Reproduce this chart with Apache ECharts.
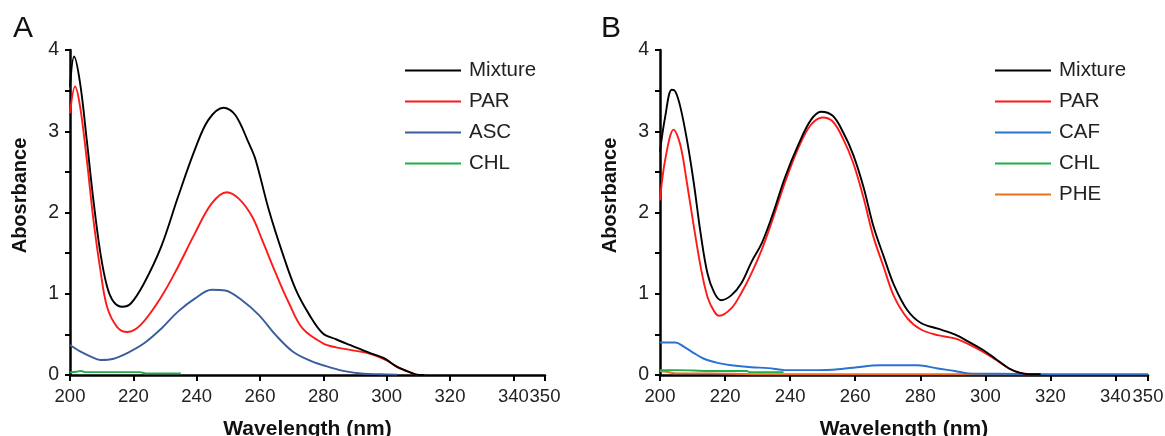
<!DOCTYPE html>
<html>
<head>
<meta charset="utf-8">
<script src="https://cdn.jsdelivr.net/npm/echarts@6/dist/echarts.min.js"></script>
<style>
html,body{margin:0;padding:0;background:#fff;}
#c{width:1165px;height:436px;}
</style>
</head>
<body>
<div id="c"></div>
<script>
// ---- Panel A data ----
const aMixWl  = [200,201.3,203.2,205.3,207.4,209.6,211.7,213.8,216.5,219.2,223.4,228.8,234.1,239.4,243.7,248.5,252.2,256.5,258.6,262.8,267.1,271.3,275.6,279.9,284,288.4,294.8,299,303.3,307.6,310.2,312];
const aMixAbs = [3.55,3.92,3.59,2.89,2.15,1.50,1.09,0.90,0.84,0.88,1.13,1.58,2.19,2.77,3.14,3.29,3.20,2.85,2.65,2.03,1.50,1.05,0.74,0.51,0.44,0.37,0.27,0.21,0.10,0.03,0.0,0.0];
const aParWl  = [200,201.6,203.2,205.3,207.4,209.6,211.7,214.9,218.1,222.4,228.8,234.1,239.4,244.7,249.5,253.3,257.5,260.7,265,269.2,273.5,279.9,284,288.4,294.8,300,303.3,307.6,310.2,312];
const aParAbs = [3.22,3.55,3.30,2.65,1.91,1.29,0.84,0.59,0.53,0.62,0.96,1.33,1.74,2.11,2.25,2.17,1.95,1.66,1.25,0.88,0.57,0.39,0.34,0.31,0.26,0.18,0.10,0.03,0.0,0.0];
const aAscWl  = [200,203.2,206.4,209.6,213.8,218.1,223.4,228.8,234.1,239.4,244.7,249,254.3,259.6,265,270.3,275.6,279.9,286.3,292.7,298,303.3];
const aAscAbs = [0.37,0.29,0.23,0.185,0.20,0.27,0.39,0.57,0.78,0.94,1.05,1.04,0.92,0.74,0.49,0.29,0.18,0.12,0.05,0.015,0.01,0.005];
const aChlWl  = [200,202,203.5,205,210,222,224,235];
const aChlAbs = [0.03,0.04,0.05,0.035,0.035,0.035,0.02,0.02];

// ---- Panel B data ----
const bMixWl  = [200,201.6,203.6,204.7,206.25,208.3,210.4,212.5,214.6,216.7,218.75,221.9,225,228.1,231.25,234.4,238.5,242.7,246.4,249.5,253.1,256.25,259.4,262.5,265.6,268.75,271.9,276,280.2,285.4,290.6,294.8,300,303.1,307.3,310.4,313.5,317];
const bMixAbs = [2.75,3.18,3.51,3.49,3.30,2.89,2.36,1.74,1.25,1.01,0.92,0.98,1.13,1.39,1.62,1.95,2.44,2.85,3.14,3.24,3.19,2.99,2.71,2.32,1.83,1.46,1.11,0.80,0.64,0.57,0.50,0.41,0.29,0.20,0.08,0.03,0.01,0.01];
const bParWl  = [200,201.6,204.2,206.25,208.3,210.4,212.5,214.6,216.7,218.2,221.9,225,228.1,231.25,234.4,238.5,242.7,246.4,250,253.1,256.25,259.4,262.5,265.6,268.75,271.9,276,280.2,285.4,290.6,294.8,300,303.1,307.3,310.4,313.5];
const bParAbs = [2.15,2.65,3.02,2.83,2.36,1.83,1.33,0.96,0.78,0.73,0.82,1.01,1.25,1.54,1.89,2.38,2.81,3.08,3.17,3.12,2.91,2.61,2.19,1.70,1.33,0.97,0.70,0.56,0.49,0.45,0.38,0.27,0.19,0.08,0.03,0.01];
const bCafWl  = [200,204.7,207.3,210.4,213.5,217.7,221.9,228.1,233.3,238.5,249,253.1,259.4,267.7,279.2,285.4,290.6,294.8,303.1,320,350];
const bCafAbs = [0.40,0.40,0.35,0.27,0.20,0.15,0.12,0.095,0.085,0.06,0.06,0.065,0.09,0.12,0.12,0.08,0.05,0.02,0.015,0.01,0.01];
const bChlWl  = [200,206,215,226.6,227.5,238];
const bChlAbs = [0.06,0.06,0.05,0.05,0.035,0.035];
const bPheWl  = [200,202,205,215,230,317];
const bPheAbs = [0.05,0.04,0.02,0.02,0.01,0.01];

// ---- axis ticks ----
const xMin = 200, xMax = 350, xStep = 20;
const yMin = 0, yMax = 4, yStep = 0.5;

const zip = (w, a) => w.map((v, i) => [v, a[i]]);

const colBlack = '#000000', colRed = '#ff1a1a', colBlueA = '#3a5e9c', colBlueB = '#2a72d0', colGreen = '#1fae4a', colOrange = '#ee6e1c';
const font = 'Liberation Sans, Arial, sans-serif';

function xAxisCfg(idx) {
  return {
    type: 'value', gridIndex: idx, min: xMin, max: xMax, interval: xStep,
    name: 'Wavelength (nm)', nameLocation: 'middle', nameGap: 44,
    nameTextStyle: { fontFamily: font, fontSize: 21, fontWeight: 'bold', color: '#111' },
    axisLine: { show: true, onZero: false, lineStyle: { color: '#000', width: 2.5 } },
    axisTick: { show: true, inside: false, length: 6, lineStyle: { color: '#000', width: 2 } },
    axisLabel: { fontFamily: font, fontSize: 18.5, color: '#222', margin: 12, showMaxLabel: true, showMinLabel: true, hideOverlap: false },
    splitLine: { show: false }
  };
}
function yAxisCfg(idx) {
  return {
    type: 'value', gridIndex: idx, min: yMin, max: yMax, interval: yStep,
    name: 'Abosrbance', nameLocation: 'middle', nameGap: 40, nameRotate: 90,
    nameTextStyle: { fontFamily: font, fontSize: 20, fontWeight: 'bold', color: '#111', padding: [0, 0, 0, 34] },
    axisLine: { show: true, lineStyle: { color: '#000', width: 2.5 } },
    axisTick: { show: true, inside: false, length: 5, lineStyle: { color: '#000', width: 2 } },
    axisLabel: { fontFamily: font, fontSize: 19.5, color: '#222', margin: 11,
      formatter: v => (Math.abs(v - Math.round(v)) < 1e-9 ? String(Math.round(v)) : '') },
    splitLine: { show: false }
  };
}
function line(name, wl, ab, color, x, y, z) {
  return {
    type: 'line', name, data: zip(wl, ab), xAxisIndex: x, yAxisIndex: y,
    showSymbol: false, smooth: 0.35, z: z || 2,
    lineStyle: { color, width: 1.9 }, itemStyle: { color }
  };
}
function legendCfg(names, left) {
  return {
    data: names, orient: 'vertical', left, top: 60, padding: 0, itemWidth: 56, itemHeight: 2,
    icon: 'rect', itemGap: 10,
    textStyle: { fontFamily: font, fontSize: 20.5, color: '#222', lineHeight: 20, padding: [0, 0, 0, 3] }
  };
}

const chart = echarts.init(document.getElementById('c'), null, { renderer: 'canvas' });
chart.setOption({
  backgroundColor: '#fff',
  animation: false,
  title: [
    { text: 'A', left: 8, top: 9, textStyle: { fontFamily: font, fontSize: 30, fontWeight: 'normal', color: '#111' } },
    { text: 'B', left: 596, top: 9, textStyle: { fontFamily: font, fontSize: 30, fontWeight: 'normal', color: '#111' } }
  ],
  grid: [
    { left: 70, top: 50, width: 475, height: 325, outerBoundsMode: 'none', containLabel: false },
    { left: 660, top: 50, width: 488, height: 325, outerBoundsMode: 'none', containLabel: false }
  ],
  xAxis: [xAxisCfg(0), xAxisCfg(1)],
  yAxis: [yAxisCfg(0), yAxisCfg(1)],
  legend: [
    legendCfg(['Mixture', 'PAR', 'ASC', 'CHL'], 405),
    legendCfg(['Mixture', 'PAR', 'CAF', 'CHL ', 'PHE'], 995)
  ],
  series: [
    line('CHL', aChlWl, aChlAbs, colGreen, 0, 0, 1),
    line('ASC', aAscWl, aAscAbs, colBlueA, 0, 0, 2),
    line('PAR', aParWl, aParAbs, colRed, 0, 0, 3),
    line('Mixture', aMixWl, aMixAbs, colBlack, 0, 0, 4),
    line('PHE', bPheWl, bPheAbs, colOrange, 1, 1, 1),
    line('CHL ', bChlWl, bChlAbs, colGreen, 1, 1, 1),
    line('CAF', bCafWl, bCafAbs, colBlueB, 1, 1, 2),
    line('PAR', bParWl, bParAbs, colRed, 1, 1, 3),
    line('Mixture', bMixWl, bMixAbs, colBlack, 1, 1, 4)
  ]
});
</script>
</body>
</html>
